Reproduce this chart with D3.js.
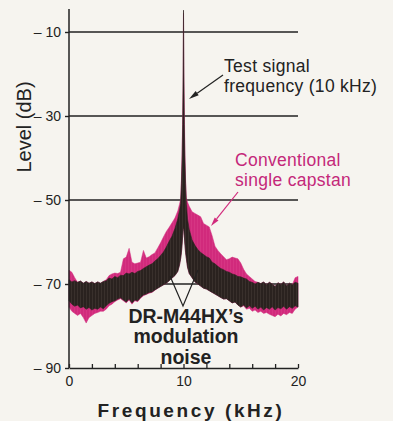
<!DOCTYPE html>
<html>
<head>
<meta charset="utf-8">
<script src="https://cdn.jsdelivr.net/npm/d3@7"></script>
<style>
  html, body { margin: 0; padding: 0; background: #f6f4ef; }
  svg { display: block; font-family: "Liberation Sans", Arial, sans-serif; }
</style>
</head>
<body>
<svg id="chart" width="393" height="421"></svg>
<script>
// frequency points (kHz), denser around the 10 kHz test tone
const freq = [0,0.25,0.5,0.75,1,1.25,1.5,1.75,2,2.25,2.5,2.75,3,3.25,3.5,3.75,4,4.25,4.5,4.75,5,5.25,5.5,5.75,6,6.25,6.5,6.75,7,7.25,7.5,7.75,8,8.25,8.5,8.75,9,9.25,9.5,
  9.65,9.75,9.82,9.88,9.93,9.97,10,10.03,10.07,10.12,10.18,10.25,10.35,
  10.5,10.75,11,11.25,11.5,11.75,12,12.25,12.5,12.75,13,13.25,13.5,13.75,14,14.25,14.5,14.75,15,15.25,15.5,15.75,16,16.25,16.5,16.75,17,17.25,17.5,17.75,18,18.25,18.5,18.75,19,19.25,19.5,19.75,20];

// DR-M44HX modulation noise band (dB)
const drUpper = [-69.0,-69.5,-69.2,-69.6,-69.3,-69.8,-69.4,-69.8,-69.5,-69.9,-69.5,-69.8,-69.4,-69.2,-68.6,-68.8,-68.2,-68.5,-67.9,-68.0,-67.4,-67.6,-67.2,-67.5,-67.0,-66.8,-66.3,-65.9,-65.5,-65.2,-64.5,-64.0,-63.2,-62.4,-61.2,-59.8,-58.6,-56.8,-54.5,
  -52.5,-50.8,-46,-40,-32,-20,-4.8,-20,-32,-40,-46,-51,-54.5,
  -57,-59.5,-60.8,-61.8,-62.5,-63.0,-63.5,-63.8,-64.8,-65.2,-65.8,-66.3,-66.6,-67.0,-67.2,-67.6,-67.8,-68.2,-68.3,-68.6,-68.8,-69.4,-69.6,-70.0,-69.6,-69.9,-69.5,-70.2,-69.6,-70.0,-70.6,-69.7,-70.1,-69.5,-70.4,-69.8,-70.2,-69.6,-69.8];
const drLower = [-74.0,-74.8,-75.3,-75.0,-75.7,-75.4,-76.0,-75.6,-76.2,-75.8,-76.0,-75.5,-75.9,-75.2,-74.6,-74.2,-74.0,-73.6,-73.3,-73.8,-74.3,-73.6,-74.5,-73.8,-74.0,-73.2,-72.6,-72.4,-72.0,-71.9,-71.4,-71.0,-70.6,-70.2,-69.8,-69.2,-68.6,-68.0,-67.0,
  -65.5,-64.0,-62.5,-60.5,-58.5,-57.0,-56.5,-57.0,-58.5,-60.5,-62.5,-64.0,-66.0,
  -67.5,-68.5,-69.5,-70.0,-70.5,-71.0,-71.2,-71.6,-72.0,-72.4,-72.8,-73.2,-73.6,-73.5,-74.0,-74.5,-74.3,-75.0,-75.5,-75.0,-75.7,-75.2,-75.8,-75.3,-76.0,-75.5,-76.2,-75.6,-76.0,-75.4,-76.2,-75.6,-75.9,-75.3,-76.0,-75.4,-75.8,-75.2,-75.5];

// conventional single capstan noise band (dB)
const convUpper = [-66.7,-67.2,-68.5,-69.6,-69.3,-69.8,-69.4,-69.8,-69.5,-69.9,-69.5,-69.8,-69.4,-69.0,-68.0,-67.6,-67.4,-67.5,-67.2,-64.0,-63.6,-61.5,-64.8,-65.2,-65.0,-64.8,-62.0,-63.8,-63.5,-63.0,-62.6,-61.4,-60.2,-58.8,-57.5,-56.5,-55.4,-54.3,-52.6,
  -51.0,-49.8,-45,-38,-30,-20,-5.5,-18,-28,-38,-45,-49.5,-50.5,
  -51.5,-52.8,-53.2,-53.6,-54.0,-55.6,-56.0,-56.4,-58.5,-61.0,-62.0,-62.8,-63.5,-64.2,-64.0,-63.6,-63.8,-64.0,-65.0,-66.5,-67.6,-68.2,-68.8,-69.4,-69.6,-69.9,-69.5,-70.2,-69.6,-70.0,-70.6,-69.7,-70.1,-69.5,-70.4,-69.8,-70.2,-68.5,-68.2];
const convLower = [-75.5,-76.5,-77.0,-77.5,-77.0,-78.0,-79.3,-78.0,-77.5,-77.0,-76.8,-76.5,-76.5,-76.0,-75.2,-74.8,-74.2,-73.8,-73.5,-74.0,-74.5,-73.8,-74.8,-74.0,-74.2,-73.4,-72.8,-72.5,-72.2,-72.0,-71.5,-71.0,-70.6,-70.2,-69.8,-69.2,-68.6,-68.0,-67.0,
  -65.5,-64.0,-62.5,-60.5,-58.5,-57.0,-56.5,-57.0,-58.5,-60.5,-62.5,-64.0,-66.0,
  -67.5,-68.5,-69.5,-70.0,-70.5,-71.0,-71.2,-71.6,-72.0,-72.4,-72.8,-73.2,-73.6,-73.5,-74.0,-74.5,-74.3,-75.0,-75.5,-75.2,-76.0,-75.8,-76.5,-76.2,-76.8,-76.5,-77.0,-76.8,-77.2,-77.5,-77.8,-77.2,-77.6,-77.0,-77.3,-76.8,-77.0,-76.0,-75.5];

const gridLevels = [-10, -30, -50, -70];
const yTicks = [-10, -30, -50, -70, -90];
const xTicks = [0, 2, 4, 6, 8, 10, 12, 14, 16, 18, 20];
const xLabels = [0, 10, 20];

const ink = "#222";
const magenta = "#d12a7c";

const svg = d3.select("#chart");
const x = d3.scaleLinear().domain([0, 20]).range([69, 298]);
const y = d3.scaleLinear().domain([-90, -10]).range([368, 32]);

// stripe textures to mimic the analyser's dense vertical traces
const defs = svg.append("defs");
const drPat = defs.append("pattern").attr("id", "drTex")
  .attr("width", 3).attr("height", 4).attr("patternUnits", "userSpaceOnUse");
drPat.append("rect").attr("width", 3).attr("height", 4).attr("fill", "#2a221f");
drPat.append("rect").attr("x", 2).attr("width", 0.7).attr("height", 4).attr("fill", "#3f3531");
const cvPat = defs.append("pattern").attr("id", "cvTex")
  .attr("width", 3).attr("height", 4).attr("patternUnits", "userSpaceOnUse");
cvPat.append("rect").attr("width", 3).attr("height", 4).attr("fill", magenta);
cvPat.append("rect").attr("x", 2).attr("width", 0.7).attr("height", 4).attr("fill", "#d83a86");

// grid lines
svg.append("g")
  .selectAll("line")
  .data(gridLevels)
  .join("line")
  .attr("x1", x(0)).attr("x2", x(20))
  .attr("y1", d => y(d)).attr("y2", d => y(d))
  .attr("stroke", ink).attr("stroke-width", 1.4);

// noise bands
const band = (lo, hi) => d3.area()
  .x((d, i) => x(freq[i]))
  .y0((d, i) => y(lo[i]))
  .y1((d, i) => y(hi[i]));

svg.append("path")
  .datum(freq)
  .attr("d", band(convLower, convUpper))
  .attr("fill", "url(#cvTex)")
  .attr("stroke", magenta).attr("stroke-width", 0.5);

svg.append("path")
  .datum(freq)
  .attr("d", band(drLower, drUpper))
  .attr("fill", "url(#drTex)")
  .attr("stroke", "#2a221f").attr("stroke-width", 0.6);

// y axis
const yAxis = svg.append("g")
  .attr("transform", `translate(${x(0)},0)`)
  .call(d3.axisLeft(y).tickValues(yTicks).tickSize(4).tickPadding(4)
    .tickFormat(d => "\u2013 " + Math.abs(d)));
yAxis.select(".domain").remove();
yAxis.selectAll("line").attr("stroke", ink).attr("stroke-width", 1.4);
yAxis.selectAll("text").attr("fill", ink).attr("font-size", 14)
  .attr("font-family", "Liberation Sans, Arial, sans-serif");

svg.append("line")
  .attr("x1", x(0)).attr("x2", x(0))
  .attr("y1", y(-4.5)).attr("y2", y(-90))
  .attr("stroke", ink).attr("stroke-width", 1.5);

// x axis with upward ticks
const xAxis = svg.append("g")
  .attr("transform", `translate(0,${y(-90)})`)
  .call(d3.axisBottom(x).tickValues(xTicks).tickSizeInner(-4).tickSizeOuter(0).tickPadding(8)
    .tickFormat(d => xLabels.includes(d) ? d : ""));
xAxis.select(".domain").attr("stroke", ink).attr("stroke-width", 1.5);
xAxis.selectAll("line").attr("stroke", ink).attr("stroke-width", 1.3);
xAxis.selectAll("text").attr("fill", ink).attr("font-size", 14)
  .attr("font-family", "Liberation Sans, Arial, sans-serif");

// axis titles
svg.append("text")
  .attr("transform", "translate(31,127) rotate(-90)")
  .attr("text-anchor", "middle")
  .attr("font-size", 20).attr("fill", ink)
  .text("Level (dB)");

svg.append("text")
  .attr("x", 191).attr("y", 417)
  .attr("text-anchor", "middle")
  .attr("font-size", 19).attr("font-weight", "bold")
  .attr("letter-spacing", 2.6).attr("fill", ink)
  .text("Frequency (kHz)");

// annotations
const arrow = (x1, y1, x2, y2, color, len, half) => {
  const a = Math.atan2(y2 - y1, x2 - x1);
  const bx = x2 - len * Math.cos(a), by = y2 - len * Math.sin(a);
  svg.append("line").attr("x1", x1).attr("y1", y1).attr("x2", bx).attr("y2", by)
    .attr("stroke", color).attr("stroke-width", 1.2);
  const p = [[x2, y2],
    [bx + half * Math.sin(a), by - half * Math.cos(a)],
    [bx - half * Math.sin(a), by + half * Math.cos(a)]];
  svg.append("path").attr("d", "M" + p.join("L") + "Z").attr("fill", color);
};

const tone = svg.append("text").attr("font-size", 17.5).attr("fill", ink)
  .attr("letter-spacing", 0.3);
tone.append("tspan").attr("x", 224).attr("y", 72).text("Test signal");
tone.append("tspan").attr("x", 224).attr("y", 91.5).text("frequency (10 kHz)");
arrow(223, 75, 189, 99, ink, 10, 2.6);

const conv = svg.append("text").attr("font-size", 17.5).attr("fill", "#c4287a")
  .attr("letter-spacing", 0.3);
conv.append("tspan").attr("x", 235).attr("y", 166).text("Conventional");
conv.append("tspan").attr("x", 235).attr("y", 185.5).text("single capstan");
arrow(238, 192, 211, 226, magenta, 9, 2.4);

const dr = svg.append("text").attr("font-size", 19.5).attr("font-weight", "bold")
  .attr("fill", ink).attr("text-anchor", "middle");
dr.append("tspan").attr("x", 186).attr("y", 323).text("DR-M44HX\u2019s");
dr.append("tspan").attr("x", 186).attr("y", 343).text("modulation");
dr.append("tspan").attr("x", 186).attr("y", 364).text("noise");

svg.append("path")
  .attr("d", "M170,276L183,306L198,270")
  .attr("fill", "none").attr("stroke", ink).attr("stroke-width", 1.2);
</script>
</body>
</html>
